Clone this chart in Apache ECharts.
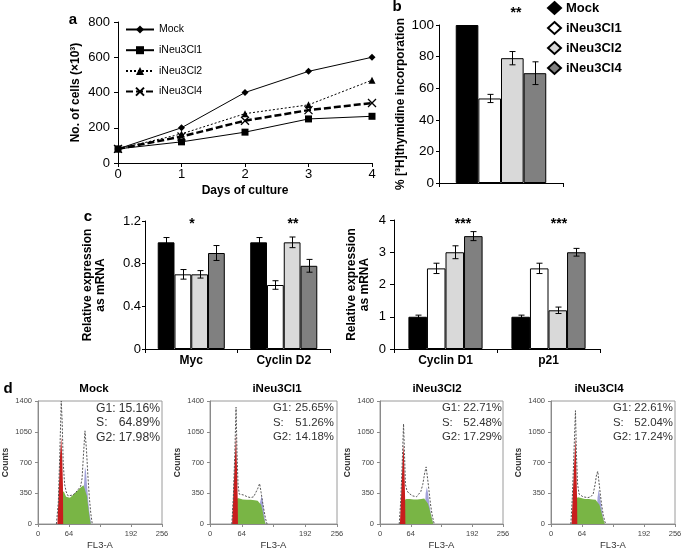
<!DOCTYPE html>
<html><head><meta charset="utf-8">
<script src="https://cdn.jsdelivr.net/npm/echarts@6/dist/echarts.min.js"></script>
<style>html,body{margin:0;padding:0;background:#fff}#c{width:685px;height:553px}</style>
</head><body><div id="c"></div>
<script>
// ---------- data ----------
const groups = ['Mock', 'iNeu3Cl1', 'iNeu3Cl2', 'iNeu3Cl4'];
const days = [0, 1, 2, 3, 4];
const cellsMock = [80, 200, 400, 520, 600];
const cellsCl1 = [80, 120, 175, 250, 265];
const cellsCl2 = [80, 165, 280, 330, 470];
const cellsCl4 = [80, 150, 240, 300, 340];

const thymidine = [100, 53.5, 79, 69.5];
const thymidineErr = [0, 2.6, 4.2, 7.2];

const mrnaCatsA = ['Myc', 'Cyclin D2'];
const mrnaA = [[1.0, 1.0], [0.70, 0.60], [0.70, 1.0], [0.90, 0.78]];
const mrnaAErr = [[0.045, 0.045], [0.045, 0.04], [0.035, 0.05], [0.07, 0.06]];
const mrnaCatsB = ['Cyclin D1', 'p21'];
const mrnaB = [[1.0, 1.0], [2.5, 2.5], [3.0, 1.2], [3.5, 3.0]];
const mrnaBErr = [[0.05, 0.05], [0.16, 0.16], [0.2, 0.1], [0.14, 0.12]];

const phaseStats = [[15.16, 64.89, 17.98], [25.65, 51.26, 14.18], [22.71, 52.48, 17.29], [22.61, 52.04, 17.24]];
const fcmTicks = [0, 64, 192, 256];

// flow cytometry histograms: [channel, counts]
const fcmEnvelope = [
  [[38,0],[42,250],[45,800],[48,1400],[50,1150],[52,700],[55,450],[58,370],[62,320],[66,300],[72,330],[78,360],[84,400],[88,430],[91,520],[94,800],[97,1060],[100,850],[103,550],[106,300],[109,120],[112,0]],
  [[44,0],[47,300],[50,800],[52.5,1330],[54.5,800],[56.5,450],[59,340],[63,320],[68,330],[75,310],[82,300],[88,310],[92,330],[96,400],[100,460],[103,360],[106,250],[109,150],[112,60],[115,0]],
  [[40,0],[43,250],[46,650],[49,1140],[51,800],[53,450],[56,380],[60,350],[64,330],[68,320],[72,300],[76,310],[80,330],[85,370],[89,450],[93,580],[96,650],[99,520],[102,380],[105,230],[108,120],[111,40],[113,0]],
  [[41,0],[44,300],[47,750],[50.5,1290],[52.5,800],[55,450],[58,340],[62,320],[66,310],[70,300],[76,300],[82,310],[87,340],[91,450],[94,560],[96.5,600],[99,480],[102,330],[105,200],[108,100],[111,30],[113,0]]
];
const fcmG1 = [
  [[40,0],[43,400],[45.5,780],[48,990],[50,760],[51.5,440],[52,0]],
  [[44.5,0],[47.5,400],[50.5,780],[52.5,1030],[54.2,680],[55.8,300],[56.3,0]],
  [[41.5,0],[44.5,400],[47,720],[49,910],[50.8,620],[52.3,280],[52.8,0]],
  [[42.5,0],[45.5,400],[48.5,760],[50.5,990],[52.3,640],[53.8,300],[54.3,0]]
];
const fcmS = [
  [[42,0],[44,300],[46,400],[50,420],[54,360],[58,310],[62,295],[66,300],[72,330],[80,370],[88,415],[94,440],[98,430],[101,320],[104,180],[107,60],[109,0]],
  [[47,0],[49,200],[52,260],[56,295],[60,290],[66,280],[74,275],[82,275],[90,270],[96,265],[100,260],[103,220],[106,150],[109,60],[112,0]],
  [[43,0],[46,200],[50,270],[55,285],[62,285],[70,280],[78,280],[86,285],[92,290],[96,280],[100,230],[104,150],[108,60],[111,0]],
  [[44,0],[47,220],[51,290],[56,305],[62,295],[70,285],[78,285],[86,280],[92,275],[96,260],[100,220],[104,140],[108,50],[111,0]]
];
const fcmG2 = [
  [[93,0],[95,450],[97,650],[99,600],[101,450],[104,250],[107,100],[110,0]],
  [[98,0],[101,250],[104,320],[106,280],[108,180],[110,80],[112,0]],
  [[92,0],[95,350],[97.5,420],[100,350],[103,220],[106,110],[109,40],[111,0]],
  [[93,0],[96,300],[98.5,390],[101,320],[104,200],[107,90],[110,0]]
];

// ---------- layout / style ----------
const FONT = "'Liberation Sans', Arial, sans-serif";
const barColors = ['#000000', '#ffffff', '#d9d9d9', '#808080'];
const lineSeriesData = [cellsMock, cellsCl1, cellsCl2, cellsCl4];
const lineSymbols = ['diamond', 'rect', 'triangle', 'path://M0,0L10,10M10,0L0,10'];
const lineTypes = ['solid', 'solid', [2, 2], [7, 3]];
const lineWidths = [1, 1, 1, 2.5];
const symbolSizes = [7, 7, 7, 8];

const histLeft = [38, 210, 380, 551];
const histWidth = [124, 127, 123, 124];
const histTitleX = [94, 277, 437, 599];
const statsLeft = [96, 273, 442, 613];
const statsRight = [160, 334, 502, 673];
const statsFont = [12.2, 11.4, 11.4, 11.4];

const grids = [
  { left: 118, top: 22, width: 254, height: 141 },
  { left: 439, top: 25, width: 124, height: 158 },
  { left: 145, top: 221, width: 185, height: 128 },
  { left: 394, top: 220, width: 206, height: 129 }
];
histLeft.forEach((l, i) => grids.push({ left: l, top: 401, width: histWidth[i], height: 123,
  show: true, borderColor: '#9a9a9a', borderWidth: 1, backgroundColor: 'transparent' }));
grids.forEach(g => { g.containLabel = false; g.outerBoundsMode = 'none'; });

const blackAxis = { lineStyle: { color: '#000', width: 1 } };
const noMove = { nameMoveOverlap: false };

const xAxes = [
  { gridIndex: 0, type: 'value', min: 0, max: 4, interval: 1,
    axisLine: { show: true, ...blackAxis }, axisTick: { show: true, length: 4, ...blackAxis },
    axisLabel: { fontSize: 13, color: '#000', margin: 5, fontFamily: FONT }, splitLine: { show: false },
    name: 'Days of culture', nameLocation: 'middle', nameGap: 22, ...noMove,
    nameTextStyle: { fontSize: 12, fontWeight: 'bold', color: '#000', fontFamily: FONT } },
  { gridIndex: 1, type: 'category', data: [''],
    axisLine: { show: true, ...blackAxis }, axisTick: { show: true, length: 4, ...blackAxis },
    axisLabel: { show: false } },
  { gridIndex: 2, type: 'category', data: mrnaCatsA,
    axisLine: { show: true, ...blackAxis }, axisTick: { show: true, length: 4, ...blackAxis },
    axisLabel: { fontSize: 12, fontWeight: 'bold', color: '#000', margin: 6, fontFamily: FONT } },
  { gridIndex: 3, type: 'category', data: mrnaCatsB,
    axisLine: { show: true, ...blackAxis }, axisTick: { show: true, length: 4, ...blackAxis },
    axisLabel: { fontSize: 12, fontWeight: 'bold', color: '#000', margin: 6, fontFamily: FONT } }
];
const yAxes = [
  { gridIndex: 0, type: 'value', min: 0, max: 800, interval: 200,
    axisLine: { show: true, ...blackAxis }, axisTick: { show: true, length: 4, ...blackAxis },
    axisLabel: { fontSize: 13, color: '#000', margin: 8, fontFamily: FONT }, splitLine: { show: false },
    name: 'No. of cells (×10³)', nameLocation: 'middle', nameGap: 36, ...noMove,
    nameTextStyle: { fontSize: 12, fontWeight: 'bold', color: '#000', fontFamily: FONT } },
  { gridIndex: 1, type: 'value', min: 0, max: 100, interval: 20,
    axisLine: { show: true, ...blackAxis }, axisTick: { show: true, length: 3, ...blackAxis },
    axisLabel: { fontSize: 13.5, color: '#000', margin: 5, fontFamily: FONT }, splitLine: { show: false },
    name: '% [³H]thymidine incorporation', nameLocation: 'middle', nameGap: 32, ...noMove,
    nameTextStyle: { fontSize: 12, fontWeight: 'bold', color: '#000', fontFamily: FONT } },
  { gridIndex: 2, type: 'value', min: 0, max: 1.2, interval: 0.4,
    axisLine: { show: true, ...blackAxis }, axisTick: { show: true, length: 3, ...blackAxis },
    axisLabel: { fontSize: 13, color: '#000', margin: 4, fontFamily: FONT }, splitLine: { show: false },
    name: 'Relative expression\nas mRNA', nameLocation: 'middle', nameGap: 38, ...noMove,
    nameTextStyle: { fontSize: 12, fontWeight: 'bold', color: '#000', lineHeight: 13, fontFamily: FONT } },
  { gridIndex: 3, type: 'value', min: 0, max: 4, interval: 1,
    axisLine: { show: true, ...blackAxis }, axisTick: { show: true, length: 4, ...blackAxis },
    axisLabel: { fontSize: 13, color: '#000', margin: 8, fontFamily: FONT }, splitLine: { show: false },
    name: 'Relative expression\nas mRNA', nameLocation: 'middle', nameGap: 23, ...noMove,
    nameTextStyle: { fontSize: 12, fontWeight: 'bold', color: '#000', lineHeight: 13, fontFamily: FONT } }
];
const grayAxis = { lineStyle: { color: '#8a8a8a', width: 1 } };
for (let i = 0; i < 4; i++) {
  xAxes.push({ gridIndex: 4 + i, type: 'value', min: 0, max: 256, interval: 64,
    axisLine: { show: true, ...grayAxis }, axisTick: { show: true, length: 3, ...grayAxis },
    axisLabel: { fontSize: 7.5, color: '#444', margin: 6, fontFamily: FONT,
      formatter: v => fcmTicks.indexOf(v) >= 0 ? String(v) : '' },
    splitLine: { show: false },
    name: 'FL3-A', nameLocation: 'middle', nameGap: 16, ...noMove,
    nameTextStyle: { fontSize: 9.5, color: '#333', fontFamily: FONT } });
  yAxes.push({ gridIndex: 4 + i, type: 'value', min: 0, max: 1400, interval: 350,
    axisLine: { show: true, ...grayAxis }, axisTick: { show: true, length: 3, ...grayAxis },
    axisLabel: { fontSize: 7.5, color: '#444', margin: 6, fontFamily: FONT, formatter: v => String(v) },
    splitLine: { show: false },
    name: 'Counts', nameLocation: 'middle', nameGap: 28, ...noMove,
    nameTextStyle: { fontSize: 8.5, fontWeight: 'bold', color: '#333', fontFamily: FONT } });
}

// ---------- series ----------
const series = [];
groups.forEach((g, k) => {
  series.push({
    name: 'a:' + g, type: 'line', xAxisIndex: 0, yAxisIndex: 0,
    data: days.map((d, i) => [d, lineSeriesData[k][i]]),
    symbol: lineSymbols[k], symbolSize: symbolSizes[k],
    lineStyle: { color: '#000', width: lineWidths[k], type: lineTypes[k] },
    itemStyle: k === 3 ? { color: 'rgba(0,0,0,0)', borderColor: '#000', borderWidth: 1.3 } : { color: '#000' },
    z: 4 - k
  });
});

function errRender(catGap) {
  return function (params, api) {
    const cat = api.value(0), v = api.value(1), e = api.value(2), k = api.value(3);
    if (!e) return null;
    const band = api.size([1, 0])[0];
    const gw = band * (1 - catGap);
    const bw = gw / 4;
    const c = api.coord([cat, v]);
    const x = Math.round(c[0] - gw / 2 + bw * (k + 0.5)) + 0.5;
    const yT = api.coord([cat, v + e])[1];
    const yB = api.coord([cat, v - e])[1];
    const cap = 3;
    const st = { stroke: '#000', lineWidth: 1 };
    return { type: 'group', children: [
      { type: 'line', shape: { x1: x, y1: yT, x2: x, y2: yB }, style: st },
      { type: 'line', shape: { x1: x - cap, y1: yT, x2: x + cap, y2: yT }, style: st },
      { type: 'line', shape: { x1: x - cap, y1: yB, x2: x + cap, y2: yB }, style: st }
    ] };
  };
}

// panel b
groups.forEach((g, k) => {
  series.push({ name: 'b:' + g, type: 'bar', xAxisIndex: 1, yAxisIndex: 1,
    data: [thymidine[k]], barGap: '0%', barCategoryGap: '27%',
    itemStyle: { color: barColors[k], borderColor: '#000', borderWidth: 1 } });
});
series.push({ type: 'custom', xAxisIndex: 1, yAxisIndex: 1, z: 5,
  renderItem: errRender(0.27), encode: { x: 0, y: 1 },
  data: groups.map((g, k) => [0, thymidine[k], thymidineErr[k], k]) });

// panel c
[[2, mrnaA, mrnaAErr, 0.275, 'c1:'], [3, mrnaB, mrnaBErr, 0.28, 'c2:']].forEach(([ax, vals, errs, gap, pre]) => {
  groups.forEach((g, k) => {
    series.push({ name: pre + g, type: 'bar', xAxisIndex: ax, yAxisIndex: ax,
      data: vals[k], barGap: '0%', barCategoryGap: (gap * 100) + '%',
      itemStyle: { color: barColors[k], borderColor: '#000', borderWidth: 1 } });
  });
  const ed = [];
  groups.forEach((g, k) => vals[k].forEach((v, ci) => ed.push([ci, v, errs[k][ci], k])));
  series.push({ type: 'custom', xAxisIndex: ax, yAxisIndex: ax, z: 5,
    renderItem: errRender(gap), encode: { x: 0, y: 1 }, data: ed });
});

// panel d
for (let i = 0; i < 4; i++) {
  const ai = 4 + i;
  const area = (data, color, z) => ({ type: 'line', xAxisIndex: ai, yAxisIndex: ai, data,
    showSymbol: false, symbol: 'none', lineStyle: { width: 0, opacity: 0 },
    areaStyle: { color, opacity: 1 }, z });
  series.push(area(fcmG2[i], '#a3a3d9', 2));
  series.push(area(fcmS[i], '#79b545', 3));
  series.push(area(fcmG1[i], '#c81d1d', 4));
  series.push({ type: 'line', xAxisIndex: ai, yAxisIndex: ai, data: fcmEnvelope[i],
    showSymbol: false, symbol: 'none', z: 5,
    lineStyle: { color: '#555', width: 1, type: [2, 1.5] } });
}

// ---------- text ----------
const graphic = [];
const txt = (x, y, text, font, fill, align, vAlign, extra) => graphic.push({ type: 'text', silent: true,
  style: Object.assign({ x, y, text, font, fill: fill || '#000', align: align || 'center', verticalAlign: vAlign || 'middle' }, extra || {}) });
const bold = s => `bold ${s}px ${FONT}`;
const reg = s => `${s}px ${FONT}`;
txt(73, 20, 'a', bold(15));
txt(397, 7, 'b', bold(15));
txt(88, 217, 'c', bold(15));
txt(8, 389, 'd', bold(15));
txt(516, 13, '**', bold(14));
txt(192, 224, '*', bold(14));
txt(293, 224, '**', bold(14));
txt(463, 224, '***', bold(14));
txt(559, 224, '***', bold(14));
groups.forEach((g, i) => {
  txt(histTitleX[i], 389, g, bold(11.5));
  txt(statsLeft[i], 401, 'G1:\nS:\nG2:', reg(statsFont[i]), '#333', 'left', 'top', { lineHeight: 14.5 });
  txt(statsRight[i], 401, phaseStats[i].map(v => v.toFixed(2) + '%').join('\n'), reg(statsFont[i]), '#333', 'right', 'top', { lineHeight: 14.5 });
});

const option = {
  animation: false,
  backgroundColor: '#fff',
  textStyle: { fontFamily: FONT },
  grid: grids, xAxis: xAxes, yAxis: yAxes, series, graphic,
  legend: [
    { left: 125, top: 24, orient: 'vertical', padding: 0, itemGap: 9.7, itemWidth: 28, itemHeight: 10,
      data: groups.map(g => 'a:' + g), formatter: n => n.slice(2), selectedMode: false,
      textStyle: { fontSize: 10.5, color: '#000', fontFamily: FONT } },
    { left: 547, top: 1, orient: 'vertical', padding: 0, itemGap: 6, itemWidth: 13, itemHeight: 12,
      icon: 'diamond', data: groups.map(g => 'b:' + g), formatter: n => n.slice(2), selectedMode: false,
      textStyle: { fontSize: 13, fontWeight: 'bold', color: '#000', fontFamily: FONT } }
  ]
};
const chart = echarts.init(document.getElementById('c'), null, { renderer: 'canvas' });
chart.setOption(option);
</script></body></html>
